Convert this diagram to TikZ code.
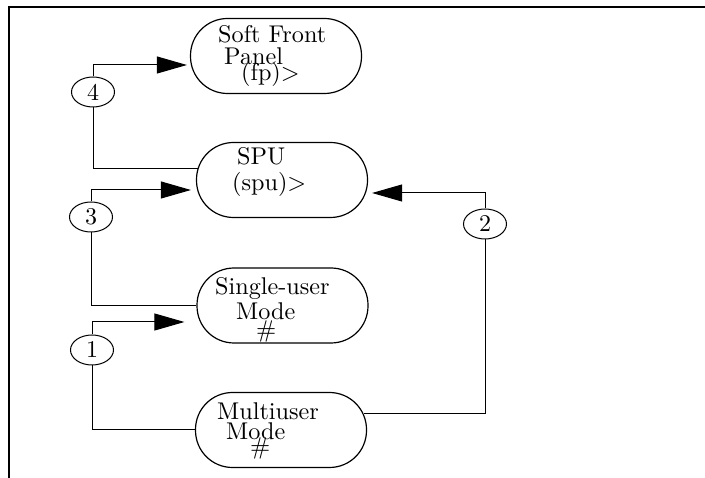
\documentclass[tikz,border=0pt]{standalone}
\usepackage{graphicx}
\usetikzlibrary{arrows.meta,shapes.geometric}
\newcommand{\bigtxt}[1]{\scalebox{2.42}{#1}}
\newcommand{\bignum}[1]{\scalebox{2.4}{#1}}
\begin{document}
\begin{tikzpicture}[x=1pt,y=-1pt,
  box/.style={draw, line width=1.2pt, rectangle, rounded corners=37pt, minimum width=171pt, minimum height=75pt, inner sep=0pt},
  txt/.style={anchor=base west, inner sep=0pt, font=\fontsize{10}{10}\selectfont},
  num/.style={draw, ellipse, fill=white, line width=1pt, minimum width=43pt, minimum height=30pt, inner sep=0pt, font=\fontsize{10}{10}\selectfont},
  conn/.style={line width=1pt},
  arr/.style={conn, -{Triangle[length=30pt,width=17pt]}}]
\useasboundingbox (0,0) rectangle (705,478);
% frame
\draw[line width=2.2pt] (8,7) -- (705,7);
\draw[line width=1.8pt] (9,6) -- (9,478);
% boxes
\node[box] (fp) at (276,56) {};
\node[box] (spu) at (282,180) {};
\node[box] (su) at (282.5,305.5) {};
\node[box] (mu) at (281,430) {};
% texts
\node[txt] (fpa) at (218,43) {\bigtxt{Soft Front}};
\node[txt] (fpb) at (224,65) {\bigtxt{Panel}};
\node[txt] (fpc) at (241,81) {\bigtxt{(fp)>}};
\node[txt] (spua) at (237,165) {\bigtxt{SPU}};
\node[txt] (spub) at (232,191) {\bigtxt{(spu)>}};
\node[txt] (sua) at (215,295) {\bigtxt{Single-user}};
\node[txt] (sub) at (236,320) {\bigtxt{Mode}};
\node[txt] (suc) at (256,338) {\bigtxt{\#}};
\node[txt] (mua) at (217,420) {\bigtxt{Multiuser}};
\node[txt] (mub) at (226,440) {\bigtxt{Mode}};
\node[txt] (muc) at (250,455) {\bigtxt{\#}};
% numbered circles
\node[num] (c4) at (93,92) {\bignum{4}};
\node[num] (c3) at (91,217) {\bignum{3}};
\node[num] (c1) at (92,350) {\bignum{1}};
\node[num] (c2) at (485,224) {\bignum{2}};
% connectors
\draw[conn] (c4) |- ([xshift=1.6pt,yshift=11pt]spu.west);
\draw[arr] (c4) |- ([xshift=-3pt,yshift=-9pt]fp.west);
\draw[arr] (c3) |- ([xshift=-5pt,yshift=-10pt]spu.west);
\draw[conn] (c3) |- (su.west);
\draw[arr] (c1) |- ([xshift=-12pt,yshift=-16.5pt]su.west);
\draw[conn] (c1) |- (mu.west);
\draw[arr] (c2) |- ([xshift=4pt,yshift=-13pt]spu.east);
\draw[conn] (c2) |- ([xshift=-3.6pt,yshift=16pt]mu.east);
\end{tikzpicture}
\end{document}
